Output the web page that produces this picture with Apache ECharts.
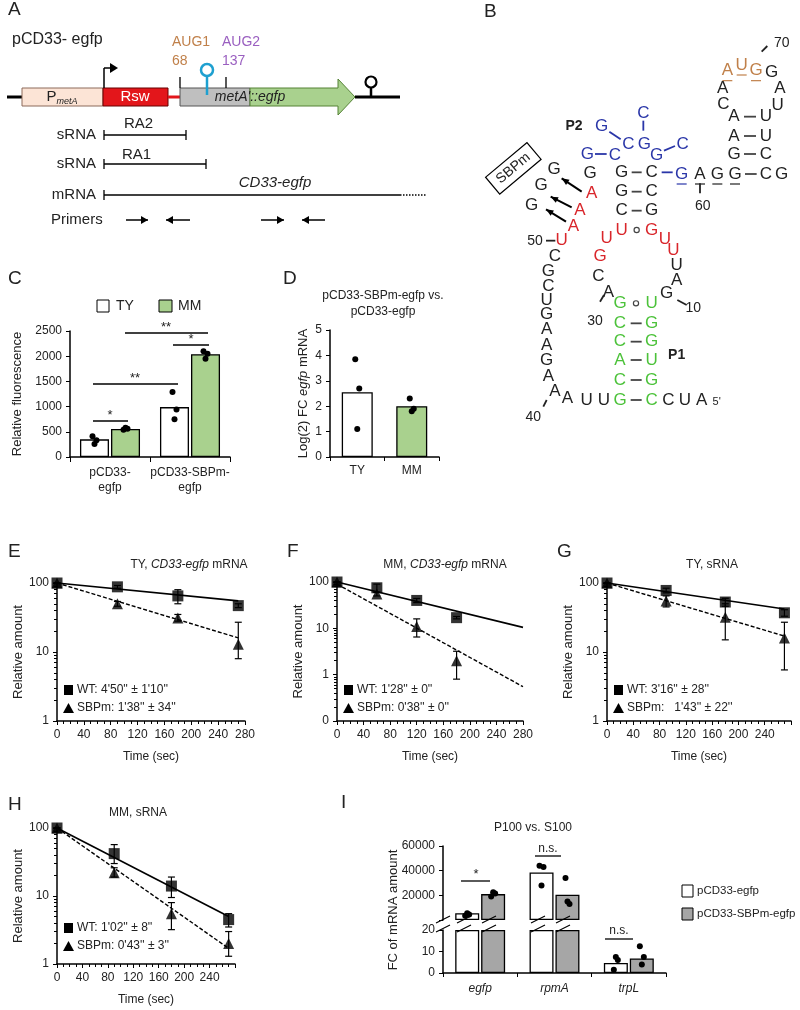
<!DOCTYPE html>
<html><head><meta charset="utf-8">
<script src="https://cdn.jsdelivr.net/npm/echarts@6/dist/echarts.min.js"></script>
<style>html,body{margin:0;padding:0;background:#fff}#c{width:800px;height:1010px}</style>
</head><body><div id="c"></div>
<script>
const F = '"Liberation Sans", Arial, sans-serif'
const N = '"Liberation Sans Narrow", "Liberation Sans", Arial, sans-serif'
const GREEN = '#a9d18e', GREY = '#a6a6a6'

// C
const cCats = ['pCD33-\negfp', 'pCD33-SBPm-\negfp']
const cTY = [350, 990]
const cMM = [555, 2040]
const cTYdots = [[410, 330, 260], [1290, 940, 750]]
const cMMdots = [[540, 560, 580], [2100, 2050, 1950]]
// D
const dCats = ['TY', 'MM']
const dVals = [2.55, 2.0]
const dDots = [[3.85, 2.7, 1.1], [2.3, 1.9, 1.8]]
// E-H decay: [time, value, low, high]
const eWT = [[0, 100, 100, 100], [90, 88, 84, 92], [180, 65, 50, 80], [270, 47, 44, 50]]
const eSB = [[0, 100, 100, 100], [90, 50, 46, 54], [180, 31, 28, 35], [270, 13, 8, 27]]
const eWTfit = [[0, 100], [270, 55]]
const eSBfit = [[0, 100], [270, 16]]
const fWT = [[0, 100, 100, 100], [60, 75, 60, 90], [120, 40, 36, 44], [180, 17, 16, 18]]
const fSB = [[0, 100, 100, 100], [60, 55, 50, 60], [120, 11, 6.5, 16], [180, 2, 0.8, 3.2]]
const fWTfit = [[0, 100], [280, 10.5]]
const fSBfit = [[0, 90], [280, 0.55]]
const gWT = [[0, 100, 100, 100], [90, 78, 72, 84], [180, 53, 46, 60], [270, 37, 33, 41]]
const gSB = [[0, 100, 100, 100], [90, 55, 45, 65], [180, 32, 15, 50], [270, 16, 5.5, 27]]
const gWTfit = [[0, 100], [270, 42]]
const gSBfit = [[0, 100], [270, 17]]
const hWT = [[0, 100, 100, 100], [90, 42, 30, 57], [180, 14, 9.5, 19], [270, 4.5, 3.5, 5.5]]
const hSB = [[0, 100, 100, 100], [90, 22, 19, 26], [180, 5.5, 3.2, 8], [270, 2, 1.3, 3]]
const hWTfit = [[0, 100], [270, 5]]
const hSBfit = [[0, 100], [270, 1.7]]
// I
const iCats = ['egfp', 'rpmA', 'trpL']
const iWT = [5500, 38500, 4.7]
const iSB = [21000, 20500, 6.8]
const iWTdots = [[3500, 4500, 5500], [44000, 43000, 28000], [1.5, 6, 7.5]]
const iSBdots = [[19000, 21500, 22500], [34000, 13000, 15000], [12.5, 7.5, 4]]

const chart = echarts.init(document.getElementById('c'), null, { renderer: 'canvas' })

const grids = [
  { left: 70, top: 331, width: 160, height: 126 },
  { left: 330, top: 330, width: 109, height: 127 },
  { left: 57, top: 583, width: 188, height: 138 },
  { left: 337, top: 582, width: 186, height: 139 },
  { left: 607, top: 583, width: 184, height: 138 },
  { left: 57, top: 828, width: 178, height: 136 },
  { left: 443, top: 846, width: 223, height: 74 },
  { left: 443, top: 930, width: 223, height: 43 }
]
const axLine = { show: true, lineStyle: { color: '#000', width: 1.5 } }
const tick = { show: true, lineStyle: { color: '#000' }, length: 4 }

const xAxes = [], yAxes = [], series = []

// C
xAxes.push({ gridIndex: 0, type: 'category', data: cCats, axisLine: axLine, axisTick: { show: true, lineStyle: { color: '#000' } },
  axisLabel: { color: '#222', fontFamily: F, fontSize: 12, lineHeight: 15, margin: 8, interval: 0 } })
yAxes.push({ gridIndex: 0, type: 'value', min: 0, max: 2500, interval: 500, axisLine: axLine, axisTick: tick, splitLine: { show: false },
  axisLabel: { color: '#222', fontFamily: F, fontSize: 12, formatter: v => String(v) }, name: 'Relative fluorescence', nameLocation: 'middle', nameGap: 46, nameTextStyle: { color: '#222', fontFamily: F, fontSize: 13 } })
// D
xAxes.push({ gridIndex: 1, type: 'category', data: dCats, axisLine: axLine, axisTick: tick,
  axisLabel: { color: '#222', fontFamily: F, fontSize: 12 } })
yAxes.push({ gridIndex: 1, type: 'value', min: 0, max: 5, interval: 1, axisLine: axLine, axisTick: tick, splitLine: { show: false },
  axisLabel: { color: '#222', fontFamily: F, fontSize: 12 },
  name: '{n|Log(2) FC }{i|egfp}{n| mRNA}', nameLocation: 'middle', nameGap: 20,
  nameTextStyle: { rich: { n: { fontFamily: F, fontSize: 13, color: '#222' }, i: { fontFamily: F, fontSize: 13, fontStyle: 'italic', color: '#222' } } } })

// E-H
function decay(gi, wt, sb, wtFit, sbFit, ymin, opt) {
  xAxes.push({ gridIndex: gi, type: 'value', min: 0, max: 280, interval: 40, axisLine: axLine, axisTick: tick,
    minorTick: { show: true, splitNumber: 4, length: 3, lineStyle: { color: '#000' } }, splitLine: { show: false },
    axisLabel: { color: '#222', fontFamily: N, fontSize: 12, formatter: v => (opt.hide280 && v === 280) ? '' : v },
    name: 'Time (sec)', nameLocation: 'middle', nameGap: 30, nameTextStyle: { color: '#222', fontFamily: N, fontSize: 12 } })
  yAxes.push({ gridIndex: gi, type: 'log', logBase: 10, min: ymin, max: 100, axisLine: axLine, axisTick: tick,
    minorTick: { show: true, splitNumber: 9, length: 3, lineStyle: { color: '#000' } }, splitLine: { show: false },
    axisLabel: { color: '#222', fontFamily: N, fontSize: 12, formatter: v => v < 1 ? '0' : String(Math.round(v)) },
    name: 'Relative amount', nameLocation: 'middle', nameGap: 26, nameTextStyle: { color: '#222', fontFamily: F, fontSize: 13 } })
  const xi = gi, yi = gi
  const err = d => ({ type: 'custom', xAxisIndex: xi, yAxisIndex: yi, z: 3, data: d.map(r => [r[0], r[2], r[3]]),
    renderItem: (p, api) => {
      const a = api.coord([api.value(0), api.value(1)]), b = api.coord([api.value(0), api.value(2)])
      const st = { stroke: '#000', lineWidth: 1.2 }
      return { type: 'group', children: [
        { type: 'line', shape: { x1: a[0], y1: a[1], x2: b[0], y2: b[1] }, style: st },
        { type: 'line', shape: { x1: a[0] - 3.5, y1: a[1], x2: a[0] + 3.5, y2: a[1] }, style: st },
        { type: 'line', shape: { x1: b[0] - 3.5, y1: b[1], x2: b[0] + 3.5, y2: b[1] }, style: st }] }
    } })
  series.push(
    { type: 'line', xAxisIndex: xi, yAxisIndex: yi, data: wtFit, symbol: 'none', lineStyle: { color: '#000', width: 1.6 }, z: 2 },
    { type: 'line', xAxisIndex: xi, yAxisIndex: yi, data: sbFit, symbol: 'none', lineStyle: { color: '#000', width: 1.4, type: [4, 2] }, z: 2 },
    err(wt), err(sb),
    { type: 'scatter', xAxisIndex: xi, yAxisIndex: yi, data: wt.map(r => [r[0], r[1]]), symbol: 'rect', symbolSize: 11, itemStyle: { color: '#000' }, z: 4 },
    { type: 'scatter', xAxisIndex: xi, yAxisIndex: yi, data: sb.map(r => [r[0], r[1]]), symbol: 'triangle', symbolSize: 11, itemStyle: { color: '#000' }, z: 4 })
}
decay(2, eWT, eSB, eWTfit, eSBfit, 1, {})
decay(3, fWT, fSB, fWTfit, fSBfit, 0.1, {})
decay(4, gWT, gSB, gWTfit, gSBfit, 1, { hide280: true })
decay(5, hWT, hSB, hWTfit, hSBfit, 1, { hide280: true })

// I upper / lower
xAxes.push({ gridIndex: 6, type: 'category', data: iCats, show: false })
yAxes.push({ gridIndex: 6, type: 'value', min: 0, max: 60000, interval: 20000, axisLine: axLine, axisTick: tick, splitLine: { show: false },
  axisLabel: { color: '#222', fontFamily: N, fontSize: 12, formatter: v => v === 0 ? '' : String(v) } })
xAxes.push({ gridIndex: 7, type: 'category', data: iCats, axisLine: axLine, axisTick: tick,
  axisLabel: { color: '#222', fontFamily: N, fontSize: 12, fontStyle: 'italic', margin: 10 } })
yAxes.push({ gridIndex: 7, type: 'value', min: 0, max: 20, interval: 10, axisLine: axLine, axisTick: tick, splitLine: { show: false },
  axisLabel: { color: '#222', fontFamily: N, fontSize: 12 } })

function dots(xi, yi, vals, off) {
  return { type: 'custom', xAxisIndex: xi, yAxisIndex: yi, z: 5,
    data: vals.flatMap((arr, c) => arr.map((v, k) => [c, v, k])),
    renderItem: (p, api) => {
      const pt = api.coord([api.value(0), api.value(1)])
      const jit = [-2, 2, 0][api.value(2)]
      return { type: 'circle', shape: { cx: pt[0] + off + jit, cy: pt[1], r: 3 }, style: { fill: '#000' } }
    } }
}
const barSt = c => ({ color: c, borderColor: '#000', borderWidth: 1.3 })
// upper part only shows values above the break, lower part is capped at 20
const upper = arr => arr.map(v => v > 20 ? v : '-')
const lower = arr => arr.map(v => Math.min(v, 20))
series.push(
  { type: 'bar', xAxisIndex: 0, yAxisIndex: 0, data: cTY, barWidth: 29, barGap: '7%', itemStyle: barSt('#fff') },
  { type: 'bar', xAxisIndex: 0, yAxisIndex: 0, data: cMM, barWidth: 29, itemStyle: barSt(GREEN) },
  dots(0, 0, cTYdots, -15.5), dots(0, 0, cMMdots, 15.5),
  { type: 'bar', xAxisIndex: 1, yAxisIndex: 1, barWidth: 31, data: dVals.map((v, i) => ({ value: v, itemStyle: barSt(i ? GREEN : '#fff') })) },
  dots(1, 1, dDots, 0),
  { type: 'bar', xAxisIndex: 6, yAxisIndex: 6, data: upper(iWT), barWidth: 24, barGap: '8%', itemStyle: barSt('#fff') },
  { type: 'bar', xAxisIndex: 6, yAxisIndex: 6, data: upper(iSB), barWidth: 24, itemStyle: barSt(GREY) },
  dots(6, 6, iWTdots.slice(0, 2), -13), dots(6, 6, iSBdots.slice(0, 2), 13),
  { type: 'bar', xAxisIndex: 7, yAxisIndex: 7, data: lower(iWT), barWidth: 24, barGap: '8%', itemStyle: barSt('#fff') },
  { type: 'bar', xAxisIndex: 7, yAxisIndex: 7, data: lower(iSB), barWidth: 24, itemStyle: barSt(GREY) },
  dots(7, 7, [[], [], iWTdots[2]], -13), dots(7, 7, [[], [], iSBdots[2]], 13)
)

// ---- graphics ----
const g = []
const T = (x, y, text, o = {}) => g.push({ type: 'text', x, y, z: 50, style: Object.assign({ text, fill: '#222', font: `${o.size || 13}px ${o.ff || F}`, textAlign: o.align || 'left', textVerticalAlign: 'middle' }, o.style || {}), rotation: o.rot || 0 })
const L = (x1, y1, x2, y2, o = {}) => g.push({ type: 'line', z: 50, shape: { x1, y1, x2, y2 }, style: { stroke: o.c || '#000', lineWidth: o.w || 1.3, lineDash: o.dash || null } })
const R = (x, y, w, h, fill, stroke = '#000') => g.push({ type: 'rect', z: 50, shape: { x, y, width: w, height: h }, style: { fill, stroke, lineWidth: 1 } })

;[['A', 8, 10], ['B', 484, 12], ['C', 8, 279], ['D', 283, 279], ['E', 8, 552], ['F', 287, 552], ['G', 557, 552], ['H', 8, 805], ['I', 341, 803]]
  .forEach(([t, x, y]) => T(x, y, t, { size: 19 }))

// ---- A schematic ----
T(12, 40, 'pCD33- egfp', { size: 16 })
L(7, 97, 22, 97, { w: 3 }); L(355, 97, 400, 97, { w: 3 })
R(22, 88, 81, 18, '#fce4d6', '#8c6b5a')
g.push({ type: 'text', z: 51, x: 62, y: 97, style: { text: '{p|P}{s|metA}', textAlign: 'center', textVerticalAlign: 'middle', rich: { p: { font: `15px ${F}`, fill: '#222' }, s: { font: `italic 9px ${F}`, fill: '#222', padding: [8, 0, 0, 0] } } } })
R(103, 88, 65, 18, '#e3161b', '#600')
T(135, 97, 'Rsw', { size: 15, align: 'center', style: { fill: '#fff' } })
L(168, 97, 180, 97, { c: '#e3161b', w: 3 })
g.push({ type: 'polygon', z: 50, shape: { points: [[180, 88], [250, 88], [250, 106], [180, 106]] }, style: { fill: '#bfbfbf', stroke: '#555', lineWidth: 1 } })
g.push({ type: 'polygon', z: 50, shape: { points: [[250, 88], [338, 88], [338, 79], [355, 97], [338, 115], [338, 106], [250, 106]] }, style: { fill: '#a9d18e', stroke: '#548235', lineWidth: 1 } })
g.push({ type: 'text', z: 52, x: 250, y: 97, style: { text: "metA'::egfp", font: `italic 14px ${F}`, fill: '#222', textAlign: 'center', textVerticalAlign: 'middle' } })
L(104, 88, 104, 68, { w: 1.5 }); L(104, 68, 111, 68, { w: 1.5 })
g.push({ type: 'polygon', z: 50, shape: { points: [[110, 63], [118, 68], [110, 73]] }, style: { fill: '#000' } })
T(172, 42, 'AUG1', { size: 14, style: { fill: '#c0804a' } }); T(172, 61, '68', { size: 14, style: { fill: '#c0804a' } })
T(222, 42, 'AUG2', { size: 14, style: { fill: '#9a5fc0' } }); T(222, 61, '137', { size: 14, style: { fill: '#9a5fc0' } })
L(180, 77, 180, 88); L(226, 77, 226, 88)
L(207, 76, 207, 95, { c: '#1ea0d0', w: 2.5 })
g.push({ type: 'circle', z: 50, shape: { cx: 207, cy: 70, r: 6 }, style: { fill: '#fff', stroke: '#1ea0d0', lineWidth: 2.5 } })
L(371, 88, 371, 97, { w: 2.5 })
g.push({ type: 'circle', z: 50, shape: { cx: 371, cy: 82, r: 5.5 }, style: { fill: '#fff', stroke: '#000', lineWidth: 2.2 } })
const bar = (x1, x2, y) => { L(x1, y, x2, y); L(x1, y - 5, x1, y + 5); L(x2, y - 5, x2, y + 5) }
T(96, 135, 'sRNA', { size: 15, align: 'right' }); bar(104, 186, 135); T(124, 124, 'RA2', { size: 15 })
T(96, 164, 'sRNA', { size: 15, align: 'right' }); bar(104, 206, 164); T(122, 155, 'RA1', { size: 15 })
T(96, 195, 'mRNA', { size: 15, align: 'right' }); L(104, 195, 400, 195); L(104, 190, 104, 200); L(400, 195, 427, 195, { dash: [1.5, 1.5] })
g.push({ type: 'text', z: 51, x: 275, y: 183, style: { text: 'CD33-egfp', font: `italic 15px ${F}`, fill: '#222', textAlign: 'center', textVerticalAlign: 'middle' } })
T(51, 220, 'Primers', { size: 15 })
const arrow = (x1, x2, y) => { L(x1, y, x2, y, { w: 1.5 }); const d = x2 > x1 ? -1 : 1; g.push({ type: 'polygon', z: 50, shape: { points: [[x2, y], [x2 + d * 7, y - 4], [x2 + d * 7, y + 4]] }, style: { fill: '#000' } }) }
arrow(126, 148, 220); arrow(190, 166, 220); arrow(261, 284, 220); arrow(325, 302, 220)

// ---- B structure (coordinates in 1/3 px relative to panel) ----
const BX = zx => 480 + zx / 3, BY = zy => zy / 3
const OR = '#c0804a', BL = '#2a36a8', RD = '#d9262b', GN = '#4cc23a', K = '#222'
const letters = [
  ['A', 742, 212, OR, 1], ['U', 785, 195, OR, 1], ['G', 828, 212, OR, 1],
  ['G', 875, 218, K], ['A', 728, 265, K], ['A', 900, 265, K], ['C', 730, 312, K], ['U', 893, 315, K],
  ['A', 762, 350, K], ['U', 858, 350, K], ['A', 762, 408, K], ['U', 858, 408, K], ['G', 762, 462, K], ['C', 858, 462, K],
  ['A', 660, 522, K, 1], ['G', 712, 522, K, 1], ['G', 765, 522, K, 1], ['C', 858, 522, K], ['G', 905, 522, K],
  ['G', 605, 522, BL, 1], ['G', 365, 378, BL], ['C', 490, 340, BL], ['C', 445, 432, BL], ['G', 493, 432, BL], ['C', 608, 432, BL],
  ['G', 322, 462, BL], ['C', 405, 465, BL], ['G', 530, 465, BL],
  ['G', 222, 508, K], ['G', 330, 520, K], ['G', 425, 517, K], ['C', 515, 517, K], ['G', 183, 555, K], ['G', 425, 575, K], ['C', 515, 575, K],
  ['G', 155, 615, K], ['C', 425, 632, K], ['G', 515, 632, K],
  ['A', 335, 580, RD], ['A', 300, 630, RD], ['A', 280, 680, RD], ['U', 245, 722, RD], ['U', 425, 690, RD], ['G', 515, 690, RD],
  ['U', 555, 718, RD], ['U', 580, 752, RD], ['U', 380, 715, RD], ['G', 360, 770, RD],
  ['C', 355, 828, K], ['A', 385, 878, K], ['U', 590, 797, K], ['A', 590, 840, K], ['G', 560, 880, K],
  ['C', 225, 770, K], ['G', 205, 815, K], ['C', 205, 858, K], ['U', 200, 900, K], ['G', 200, 942, K], ['A', 200, 988, K],
  ['A', 200, 1035, K], ['G', 200, 1080, K], ['A', 205, 1128, K], ['A', 225, 1175, K], ['A', 262, 1195, K],
  ['U', 320, 1200, K], ['U', 372, 1200, K], ['C', 565, 1200, K], ['U', 615, 1200, K], ['A', 665, 1200, K],
  ['G', 420, 910, GN], ['U', 515, 910, GN], ['C', 420, 970, GN], ['G', 515, 970, GN], ['C', 420, 1025, GN], ['G', 515, 1025, GN],
  ['A', 420, 1080, GN], ['U', 515, 1080, GN], ['C', 420, 1140, GN], ['G', 515, 1140, GN], ['G', 420, 1200, GN], ['C', 515, 1200, GN]
]
letters.forEach(([t, zx, zy, c, u]) => {
  T(BX(zx), BY(zy), t, { size: 17, align: 'center', style: { fill: c } })
  if (u) L(BX(zx) - 5, BY(zy) + 10, BX(zx) + 5, BY(zy) + 10, { c, w: 1.2 })
})
;[['70', 905, 128], ['60', 668, 617], ['50', 165, 722], ['30', 345, 962], ['10', 640, 925], ['40', 160, 1250]]
  .forEach(([t, zx, zy]) => T(BX(zx), BY(zy), t, { size: 14, align: 'center' }))
T(BX(710), BY(1207), "5'", { size: 11, align: 'center' })
T(BX(282), BY(378), 'P2', { align: 'center', style: { font: `bold 14px ${F}` } })
T(BX(590), BY(1065), 'P1', { align: 'center', style: { font: `bold 14px ${F}` } })
const bond = (zx1, zy1, zx2, zy2, c = '#444') => L(BX(zx1), BY(zy1), BX(zx2), BY(zy2), { c, w: 1.8 })
;[350, 408, 462].forEach(y => bond(792, y, 828, y))
bond(795, 522, 830, 522); bond(455, 517, 485, 517); bond(545, 517, 578, 517, BL)
bond(455, 575, 485, 575); bond(455, 632, 485, 632)
bond(345, 462, 380, 462, BL); bond(388, 395, 422, 418, BL); bond(490, 362, 490, 392, BL); bond(552, 452, 585, 438, BL)
;[970, 1025, 1080, 1140, 1200].forEach(y => bond(452, y, 485, y))
;[[470, 690], [468, 910]].forEach(([zx, zy]) => g.push({ type: 'circle', z: 50, shape: { cx: BX(zx), cy: BY(zy), r: 2.6 }, style: { fill: 'none', stroke: '#444', lineWidth: 1.2 } }))
bond(845, 155, 862, 138, K); bond(660, 550, 660, 580, K); bond(198, 722, 226, 722, K); bond(360, 905, 372, 885, K)
bond(592, 900, 620, 915, K); bond(190, 1220, 200, 1200, K)
const barrow = (tx, ty, hx, hy) => {
  L(BX(tx), BY(ty), BX(hx), BY(hy), { w: 2 })
  const a = Math.atan2(BY(hy) - BY(ty), BX(hx) - BX(tx)), x = BX(hx), y = BY(hy)
  g.push({ type: 'polygon', z: 50, shape: { points: [[x, y], [x - 8 * Math.cos(a - 0.4), y - 8 * Math.sin(a - 0.4)], [x - 8 * Math.cos(a + 0.4), y - 8 * Math.sin(a + 0.4)]] }, style: { fill: '#000' } })
}
barrow(305, 575, 245, 535); barrow(275, 622, 212, 590); barrow(258, 665, 198, 628)
g.push({ type: 'group', x: BX(100), y: BY(505), rotation: 40 * Math.PI / 180, z: 50, children: [
  { type: 'rect', shape: { x: -27, y: -11, width: 54, height: 22 }, style: { fill: '#fff', stroke: '#000', lineWidth: 1.2 } },
  { type: 'text', style: { text: 'SBPm', font: `14px ${F}`, fill: '#222', textAlign: 'center', textVerticalAlign: 'middle' } }] })

// ---- C annotations ----
R(97, 300, 12, 12, '#fff'); T(116, 306, 'TY', { size: 14 })
R(159, 300, 13, 12, GREEN); T(178, 306, 'MM', { size: 14 })
L(93, 421, 128, 421); T(110, 415, '*', { size: 13, align: 'center' })
L(93, 384, 178, 384); T(135, 378, '**', { size: 13, align: 'center' })
L(125, 333, 208, 333); T(166, 327, '**', { size: 13, align: 'center' })
L(173, 345, 209, 345); T(191, 339, '*', { size: 13, align: 'center' })
T(383, 296, 'pCD33-SBPm-egfp vs.', { size: 12, align: 'center' })
T(383, 312, 'pCD33-egfp', { size: 12, align: 'center' })

// ---- E-H titles + legends ----
const it = (x, y, pre, ital, post) => g.push({ type: 'text', z: 51, x, y, style: { text: `{n|${pre}}{i|${ital}}{n|${post}}`, textAlign: 'center', textVerticalAlign: 'middle',
  rich: { n: { font: `12px ${N}`, fill: '#222' }, i: { font: `italic 12px ${N}`, fill: '#222' } } } })
it(189, 565, 'TY, ', 'CD33-egfp', ' mRNA'); it(445, 565, 'MM, ', 'CD33-egfp', ' mRNA'); it(712, 565, 'TY, sRNA', '', '')
it(138, 813, 'MM, sRNA', '', ''); it(533, 828, 'P100 vs. S100', '', '')
const leg = (x, y, a, b) => {
  g.push({ type: 'rect', z: 50, shape: { x, y: y - 5, width: 9, height: 10 }, style: { fill: '#000' } })
  T(x + 13, y, 'WT: ' + a, { size: 12, ff: N })
  g.push({ type: 'polygon', z: 50, shape: { points: [[x + 4.5, y + 13], [x + 10, y + 23], [x - 1, y + 23]] }, style: { fill: '#000' } })
  T(x + 13, y + 18, 'SBPm: ' + b, { size: 12, ff: N })
}
leg(64, 690, "4'50'' \u00B1 1'10''", "1'38'' \u00B1 34''")
leg(344, 690, "1'28'' \u00B1 0''", "0'38'' \u00B1 0''")
leg(614, 690, "3'16'' \u00B1 28''", "  1'43'' \u00B1 22''")
leg(64, 928, "1'02'' \u00B1 8''", "0'43'' \u00B1 3''")

// ---- I break + annotations ----
g.push({ type: 'rect', z: 60, shape: { x: 436, y: 921, width: 145, height: 8 }, style: { fill: '#fff' } })
;[436, 457, 482, 531, 556].forEach(x => {
  g.push({ type: 'line', z: 61, shape: { x1: x, y1: 923, x2: x + 14, y2: 916 }, style: { stroke: '#000', lineWidth: 1.2 } })
  g.push({ type: 'line', z: 61, shape: { x1: x, y1: 932, x2: x + 14, y2: 925 }, style: { stroke: '#000', lineWidth: 1.2 } })
})
L(461, 881, 490, 881); T(476, 874, '*', { size: 13, align: 'center' })
L(535, 856, 561, 856); T(548, 849, 'n.s.', { size: 12, ff: N, align: 'center' })
L(605, 939, 633, 939); T(619, 931, 'n.s.', { size: 12, ff: N, align: 'center' })
R(682, 885, 11, 12, '#fff'); T(697, 891, 'pCD33-egfp', { size: 11.5, ff: N })
R(682, 908, 11, 12, GREY); T(697, 914, 'pCD33-SBPm-egfp', { size: 11.5, ff: N })
T(393, 910, 'FC of mRNA amount', { size: 13, align: 'center', rot: Math.PI / 2 })

chart.setOption({
  animation: false,
  grid: grids,
  xAxis: xAxes,
  yAxis: yAxes,
  series,
  graphic: g
})
</script></body></html>
